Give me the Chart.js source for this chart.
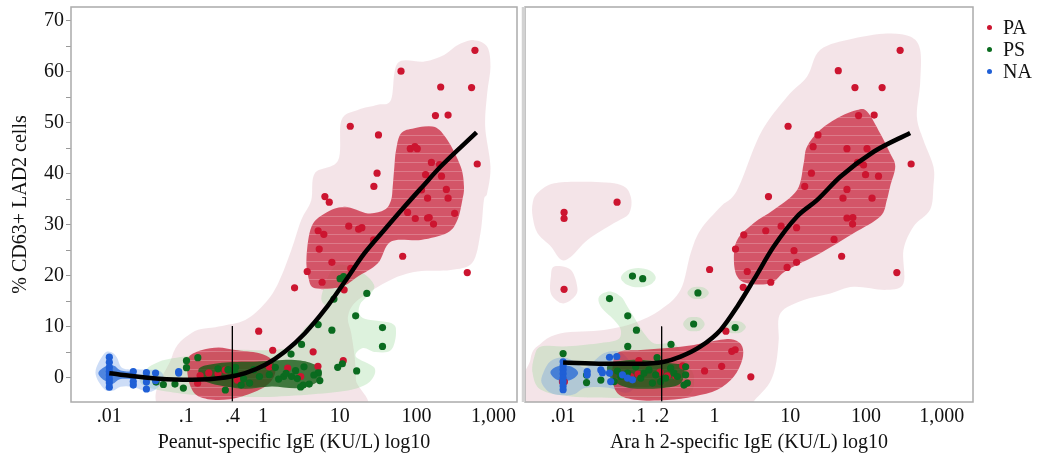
<!DOCTYPE html>
<html><head><meta charset="utf-8">
<script src="https://cdn.jsdelivr.net/npm/chart.js@4.4.1/dist/chart.umd.min.js"></script>
<style>
html,body{margin:0;padding:0;background:#fff;}
#wrap{position:relative;width:1037px;height:460px;overflow:hidden;}
#c1{position:absolute;left:0;top:0;}
#c2{position:absolute;left:521px;top:0;}
#legend{position:absolute;left:987px;top:16px;font-family:"Liberation Serif","Times New Roman",serif;font-size:20px;color:#111;}
.item{display:flex;align-items:center;height:22px;}
.dot{width:5px;height:5px;border-radius:50%;margin-right:11px;}
</style></head>
<body>
<div id="wrap">
<canvas id="c1" width="521" height="460"></canvas>
<canvas id="c2" width="516" height="460"></canvas>
<div id="legend"></div>
</div>
<script>
// ---------- categories / ticks ----------
const groups = ['PA', 'PS', 'NA'];
const groupColors = ['#cc1530', '#0a6b1f', '#1f5fd6'];
const leftTickValues = [0.01, 0.1, 0.4, 1, 10, 100, 1000];
const leftTickLabels = ['.01', '.1', '.4', '1', '10', '100', '1,000'];
const rightTickValues = [0.01, 0.1, 0.2, 1, 10, 100, 1000];
const rightTickLabels = ['.01', '.1', '.2', '1', '10', '100', '1,000'];
const yTickValues = [0, 5, 10, 15, 20, 25, 30, 35, 40, 45, 50, 55, 60, 65, 70];
const yTickLabels = ['0', '', '10', '', '20', '', '30', '', '40', '', '50', '', '60', '', '70'];
const leftCutoff = [[0.4, 10.1], [0.4, -4.8]];
const rightCutoff = [[0.2, 10.0], [0.2, -4.8]];

// ---------- left panel: Peanut-specific IgE ----------
const leftPA = [[575,64.2],[62.7,60.1],[206,57.0],[520,56.9],[176,51.4],[257,51.5],[13.7,49.3],[31.9,47.6],[82.8,44.9],[95,45.3],[102,44.9],[156,42.2],[199,41.8],[616,41.9],[30.6,40.1],[131,39.8],[211,39.5],[27.8,37.5],[244,36.9],[116,36.8],[6.4,35.5],[139,35.2],[257,35.2],[7.3,34.4],[76.4,32.4],[96.2,31.2],[139,31.3],[146,31.4],[166,30.1],[313,32.2],[5.23,28.8],[6.2,28.1],[13.1,29.7],[17.6,29.1],[19.4,29.4],[27.5,27.0],[5.4,25.2],[7.9,22.6],[65.9,23.8],[457,20.6],[3.77,20.8],[13.9,21.4],[5.89,18.7],[11.4,17.2],[2.58,17.6],[0.88,9.1],[1.34,5.35],[4.5,5.05],[5.2,2.2],[11.1,3.3],[3.1,0.2],[2.1,1.85],[1.21,2.1],[0.141,-1.1],[0.152,0.4],[0.197,0.9],[0.26,0.77],[0.324,1.45],[0.463,-0.5]];
const leftPS = [[10.1,19.4],[11.2,19.8],[22.5,16.5],[8.4,15.4],[16.1,12.1],[36,9.8],[36,6.1],[5.23,10.4],[7.9,9.3],[3.18,6.5],[2.32,4.6],[10.8,2.7],[9.4,2.0],[16.6,1.3],[5.23,0.9],[3.42,2.1],[2.66,1.35],[2.36,0.2],[3.09,-1.86],[3.34,-1.47],[4.0,-1.28],[1.86,0.2],[1.45,2.0],[1.21,0.57],[0.9,0.2],[0.76,1.55],[0.67,-1.08],[0.52,-1.47],[0.56,-0.25],[0.43,0.87],[0.44,2.0],[0.35,1.55],[0.26,1.7],[0.324,-2.45],[0.142,3.9],[0.101,3.3],[0.101,1.94],[0.092,-2.06],[0.0715,-1.28],[0.0505,-1.37],[0.0406,-0.9],[2.0,0.8],[1.6,-0.3],[2.8,-0.2],[4.6,0.5],[5.5,-0.6]];
const leftNA = [[0.01,4.0],[0.01,3.0],[0.01,2.0],[0.01,1.2],[0.01,0.5],[0.01,-0.3],[0.01,-1.0],[0.01,-1.9],[0.0205,1.16],[0.0205,0.19],[0.0205,-0.79],[0.0205,-1.47],[0.0304,0.96],[0.0304,-0.01],[0.0304,-0.89],[0.0304,-2.25],[0.04,0.87],[0.04,-0.6],[0.08,1.16],[0.08,0.87]];
const leftFit = [[0.01,0.86],[0.0444,-0.25],[0.12,-0.45],[0.324,0],[0.589,0.86],[1.07,2.5],[1.94,5.1],[3.52,8.7],[6.38,13.3],[11.6,18.8],[21.0,24.4],[38.2,29],[69.3,33.5],[120,37.5],[206,41.4],[603,48.1]];

// ---------- right panel: Ara h 2-specific IgE ----------
const rightPA = [[282,64.2],[43,60.2],[71.4,56.9],[163,56.9],[79.6,51.4],[128,51.5],[9.35,49.3],[23.2,47.6],[20,45.3],[56,44.9],[103,44.9],[77.3,42.2],[92.7,41.7],[394,41.9],[19,40.1],[98.5,39.8],[146,39.5],[15.5,37.5],[56,36.9],[5.15,35.5],[49.6,35.2],[120,35.2],[0.0516,34.4],[0.0103,32.4],[0.0103,31.2],[0.0103,17.3],[56,31.3],[67,31.4],[66.4,30.1],[2.43,28.0],[4.74,28.8],[7.57,29.7],[12.1,29.4],[37.8,27.1],[1.89,25.2],[11.2,24.9],[12.1,22.6],[9.07,21.6],[47.6,23.8],[0.86,21.2],[2.7,20.8],[255,20.6],[5.52,18.7],[2.39,17.7],[1.41,9.1],[1.69,5.15],[1.87,5.45],[1.24,2.2],[0.738,1.3],[3.01,0.14],[0.379,2.3],[0.306,0.33],[0.1,3.3],[0.0098,-0.84],[0.0104,-0.84],[0.078,0.2],[0.0977,0.67],[0.19,1.06],[0.238,0.33]];
const rightPS = [[0.0824,19.9],[0.1125,19.4],[0.603,16.6],[0.041,15.5],[0.0714,12.1],[0.093,9.3],[0.529,10.5],[1.87,9.8],[0.0714,6.1],[0.266,6.5],[0.01,4.7],[0.174,3.9],[0.0204,0.48],[0.0204,-0.98],[0.0315,-0.5],[0.0522,1.26],[0.0578,0.2],[0.0708,0.87],[0.091,2.1],[0.106,-0.11],[0.117,0.87],[0.136,1.5],[0.151,-1.08],[0.167,0.53],[0.194,-0.79],[0.226,-0.11],[0.263,1.84],[0.291,0.87],[0.323,0.2],[0.415,2.1],[0.415,0.53],[0.437,-1.08],[0.394,-1.47],[0.0471,-0.79]];
const rightNA = [[0.01,3.1],[0.01,2.3],[0.01,1.55],[0.01,0.72],[0.01,-0.11],[0.01,-0.84],[0.01,-1.67],[0.01,-2.4],[0.0208,1.16],[0.0208,0.53],[0.0315,1.5],[0.033,0.96],[0.041,3.98],[0.0511,4.13],[0.041,0.87],[0.0425,-0.79],[0.0608,0.53],[0.0708,-0.11],[0.0824,-0.45]];
const rightFit = [[0.01,2.94],[0.0348,2.7],[0.096,2.7],[0.215,3.1],[0.356,4.1],[0.654,6.1],[1.2,9.35],[1.99,13.9],[3.3,19.2],[6.04,25.7],[12.3,31.6],[22.5,34.8],[45.7,39.4],[126,44.3],[382,48.0]];

// ---------- density contour outlines (data coordinates) ----------
const leftPAOuter = [[340,65.2],[558,66.2],[830,64.9],[916,61.0],[830,55.8],[782,49.2],[916,41.4],[830,36.2],[752,34.8],[680,28.4],[531,22.5],[278,21.1],[103,20.8],[46.5,19.2],[17.2,15.2],[12.8,12.0],[14.1,8.7],[15.6,4.1],[16.2,-0.45],[15.5,-7],[0.06,-7],[0.0654,4.1],[0.119,8.8],[0.265,10.0],[0.589,11.3],[1.07,14.6],[1.59,18.6],[2.34,25.0],[3.15,30.9],[4.25,34.8],[4.74,40.1],[9.5,42.6],[10.5,50.5],[17.2,52.5],[31.3,53.5],[46.5,54.5],[56.8,61.7],[126,62.0],[228,63.3]];
const leftPAInnerA = [[54,44.6],[62.6,47.9],[93.4,48.9],[169,49.2],[252,46.6],[375,41.4],[414,37.5],[394,34.8],[340,30.9],[252,28.4],[114,27.0],[46.5,26.7],[31.3,22.4],[17.2,19.8],[10.5,17.8],[4.74,17.5],[3.88,19.8],[3.69,23.7],[4.28,29.6],[6.38,32.2],[11.6,33.5],[23.2,32.2],[38.2,32.9],[46.5,34.8],[48.9,37.5],[51.4,41.4]];
const leftPAInnerB = [[0.109,4.1],[0.161,5.4],[0.265,5.9],[0.436,5.4],[0.875,4.8],[1.3,3.5],[1.44,0.86],[1.07,-1.76],[0.532,-3.7],[0.265,-4.4],[0.146,-3.7],[0.114,-1.76],[0.103,1.5]];
const leftPSOuter = [[0.027,0.86],[0.0444,3.1],[0.109,4.25],[0.357,5.4],[1.18,5.4],[2.48,6.2],[3.34,9.35],[6.38,13.3],[5.77,15.9],[8.6,21.8],[17.2,21.1],[28.3,17.8],[18.3,14.3],[20,11.7],[46.5,10.7],[54,8.8],[46.5,5.4],[29.5,5.0],[20,5.8],[16.2,4.1],[28.3,1.9],[24.6,-0.84],[14.1,-2.4],[5.23,-3.2],[1.18,-3.8],[0.197,-3.6],[0.0598,-2.8],[0.027,-1.4]];
const leftPSInner = [[0.161,2.16],[0.324,2.94],[0.875,3.14],[2.36,3.47],[4.28,2.82],[5.77,1.5],[5.23,-0.78],[2.88,-2.08],[1.3,-1.76],[0.589,-2.2],[0.324,-1.76],[0.179,-0.78],[0.146,0.86]];
const leftNAOuter = [[0.0066,1.0],[0.0085,4.6],[0.0105,5.0],[0.0125,4.0],[0.015,1.8],[0.025,1.6],[0.045,1.3],[0.05,-0.5],[0.035,-2.8],[0.02,-1.8],[0.014,-1.8],[0.011,-2.6],[0.0085,-2.2]];
const leftNAInner = [[0.0072,0.9],[0.009,2.2],[0.0115,2.3],[0.014,1.4],[0.02,1.0],[0.022,-0.2],[0.014,-0.3],[0.011,-1.2],[0.0085,-0.5]];

const rightPAOuterA = [[24.9,64.3],[68.4,66.5],[188,67.5],[382,66.9],[518,64.3],[518,57.8],[469,51.2],[572,46.6],[775,41.4],[775,37.5],[701,32.9],[422,29.6],[312,25.0],[312,18.5],[188,17.2],[68.4,17.8],[33.8,16.5],[15,15.2],[7.4,12.6],[7.03,7.4],[6.7,4.1],[6.04,0.86],[4.95,-1.76],[3.26,-4.8],[2.98,-7],[0.0037,-7],[0.0037,3.47],[0.0051,6.7],[0.0094,8.7],[0.0348,9.35],[0.0864,10.7],[0.194,13.3],[0.356,17.2],[0.483,24.4],[0.654,29.0],[1.2,33.5],[1.99,36.8],[4.04,47.9],[9.07,55.1],[16.6,59.0]];
const rightPAOuterB = [[0.00396,34.2],[0.0046,36.2],[0.00764,38.1],[0.021,38.4],[0.0578,37.8],[0.0782,35.5],[0.0743,32.2],[0.0471,30.3],[0.021,27.0],[0.0127,23.7],[0.0094,23.1],[0.0069,25.7],[0.0046,28.3],[0.00396,31.6]];
const rightPAOuterC = [[0.00764,21.8],[0.0127,21.1],[0.0155,17.2],[0.0127,15.2],[0.0094,14.6],[0.0069,16.5],[0.0069,19.8]];
const rightPAInnerA = [[75.9,52.5],[103,52.2],[154,47.9],[208,44.0],[243,41.4],[208,37.5],[188,34.8],[154,31.6],[68.4,28.3],[24.9,24.4],[9.07,21.1],[5.47,18.5],[2.7,18.5],[1.99,19.8],[1.8,23.1],[1.99,27.0],[3.3,30.3],[6.04,32.9],[12.3,36.8],[15,42.0],[16.6,45.3],[24.9,48.6],[45.7,51.2]];
const rightPAInnerB = [[0.0522,4.8],[0.106,5.4],[0.238,5.8],[0.534,6.4],[1.2,7.4],[1.8,7.4],[2.32,6.1],[2.32,3.47],[1.8,0.2],[1.09,-2.4],[0.534,-3.7],[0.238,-4.4],[0.096,-4.4],[0.0522,-3.06],[0.0449,0.86]];
const rightPSOuterA = [[0.0051,6.1],[0.0103,6.1],[0.0285,6.7],[0.0522,7.4],[0.0578,9.35],[0.0471,11.3],[0.0315,13.9],[0.0299,15.9],[0.041,16.9],[0.0578,15.9],[0.0708,13.9],[0.091,11.3],[0.117,8.7],[0.16,6.7],[0.263,6.7],[0.323,6.1],[0.437,2.8],[0.534,0.2],[0.483,-3.06],[0.263,-4.0],[0.0578,-4.0],[0.0127,-3.7],[0.0051,-2.4],[0.00396,0.86],[0.00417,4.1]];
const rightPSOuterB = [[0.058,19.6],[0.07,21.0],[0.098,21.5],[0.14,21.0],[0.167,19.6],[0.14,18.2],[0.098,17.7],[0.07,18.2]];
const rightPSOuterC = [[0.437,16.6],[0.5,17.6],[0.607,17.8],[0.73,17.6],[0.84,16.6],[0.73,15.6],[0.607,15.4],[0.5,15.6]];
const rightPSOuterD = [[0.385,10.5],[0.44,11.7],[0.533,11.9],[0.65,11.7],[0.74,10.5],[0.65,9.3],[0.533,9.1],[0.44,9.3]];
const rightPSOuterE = [[1.35,9.9],[1.55,10.9],[1.87,11.1],[2.26,10.9],[2.59,9.9],[2.26,8.9],[1.87,8.7],[1.55,8.9]];
const rightPSInner = [[0.0426,2.8],[0.096,3.47],[0.263,2.8],[0.394,2.16],[0.356,-1.1],[0.194,-2.08],[0.0782,-2.08],[0.0471,-0.78],[0.0386,1.18]];
const rightNAOuter = [[0.0055,1.0],[0.0068,3.2],[0.01,4.0],[0.014,3.2],[0.02,2.0],[0.035,4.8],[0.06,4.8],[0.09,1.2],[0.095,-1.0],[0.07,-3.0],[0.04,-2.0],[0.02,-2.0],[0.014,-3.3],[0.01,-3.5],[0.0068,-3.0],[0.0052,-1.0]];
const rightNAInner = [[0.0068,1.0],[0.0085,2.2],[0.0125,2.2],[0.0158,0.9],[0.0125,-0.5],[0.0085,-0.5]];

// ---------- styling ----------
const FONT = "'Liberation Serif','Times New Roman',serif";
const Y_MIN = -4.8, Y_MAX = 72.7;
const FILL = {
  paOuter: 'rgba(222,170,185,0.32)',
  psOuter: 'rgba(150,215,150,0.32)',
  naOuter: 'rgba(100,150,230,0.32)',
  paInner: 'rgba(200,30,55,0.72)',
  psInner: 'rgba(20,90,20,0.78)',
  naInner: 'rgba(30,100,215,0.72)'
};

function makeHatch() {
  const c = document.createElement('canvas');
  c.width = 12; c.height = 9;
  const g = c.getContext('2d');
  g.fillStyle = 'rgba(255,255,255,0.22)';
  g.fillRect(0, 0, 12, 1);
  return c;
}
const hatchCanvas = makeHatch();

function closedSpline(ctx, pts) {
  const n = pts.length;
  ctx.beginPath();
  ctx.moveTo(pts[0][0], pts[0][1]);
  for (let i = 0; i < n; i++) {
    const p0 = pts[(i - 1 + n) % n], p1 = pts[i], p2 = pts[(i + 1) % n], p3 = pts[(i + 2) % n];
    const c1x = p1[0] + (p2[0] - p0[0]) / 6, c1y = p1[1] + (p2[1] - p0[1]) / 6;
    const c2x = p2[0] - (p3[0] - p1[0]) / 6, c2y = p2[1] - (p3[1] - p1[1]) / 6;
    ctx.bezierCurveTo(c1x, c1y, c2x, c2y, p2[0], p2[1]);
  }
  ctx.closePath();
}

const contourPlugin = {
  id: 'contours',
  beforeDatasetsDraw(chart, args, opts) {
    const {ctx, chartArea: a, scales: {x, y}} = chart;
    const pattern = ctx.createPattern(hatchCanvas, 'repeat');
    ctx.save();
    ctx.beginPath();
    ctx.rect(a.left, a.top, a.right - a.left, a.bottom - a.top);
    ctx.clip();
    for (const layer of opts.layers) {
      const pts = layer.shape.map(p => [x.getPixelForValue(p[0]), y.getPixelForValue(p[1])]);
      closedSpline(ctx, pts);
      ctx.fillStyle = layer.color;
      ctx.fill();
      if (layer.hatch) { ctx.fillStyle = pattern; ctx.fill(); }
    }
    ctx.restore();
  }
};

const framePlugin = {
  id: 'frame',
  afterDraw(chart, args, opts) {
    const {ctx, chartArea: a} = chart;
    ctx.save();
    ctx.strokeStyle = '#ababab';
    ctx.lineWidth = 1.5;
    ctx.strokeRect(a.left, a.top, a.right - a.left, a.bottom - a.top);
    if (opts.divider) {
      ctx.strokeStyle = '#d2d2d2';
      ctx.lineWidth = 3.5;
      ctx.beginPath();
      ctx.moveTo(a.left - 1.5, a.top);
      ctx.lineTo(a.left - 1.5, a.bottom);
      ctx.stroke();
    }
    ctx.restore();
  }
};

function pts(arr) { return arr.map(p => ({x: p[0], y: p[1]})); }
function noPad(s) { s.paddingTop = 0; s.paddingBottom = 0; s.paddingLeft = 0; s.paddingRight = 0; }

function buildChart(canvasId, cfg) {
  const datasets = [
    {type: 'line', data: pts(cfg.fit), borderColor: '#000', borderWidth: 4.5, pointRadius: 0, tension: 0.4, cubicInterpolationMode: 'monotone', fill: false, order: 0},
    {type: 'line', data: pts(cfg.cutoff), borderColor: '#000', borderWidth: 1, pointRadius: 0, fill: false, order: 1},
    {type: 'scatter', label: 'NA', data: pts(cfg.na), backgroundColor: groupColors[2], pointRadius: 3.6, pointBorderWidth: 0, order: 2},
    {type: 'scatter', label: 'PS', data: pts(cfg.ps), backgroundColor: groupColors[1], pointRadius: 3.6, pointBorderWidth: 0, order: 3},
    {type: 'scatter', label: 'PA', data: pts(cfg.pa), backgroundColor: groupColors[0], pointRadius: 3.6, pointBorderWidth: 0, order: 4}
  ];
  return new Chart(document.getElementById(canvasId), {
    type: 'scatter',
    data: {datasets},
    plugins: [contourPlugin, framePlugin],
    options: {
      responsive: false,
      animation: false,
      events: [],
      layout: {padding: cfg.padding},
      plugins: {
        legend: {display: false},
        tooltip: {enabled: false},
        contours: {layers: cfg.layers},
        frame: {divider: cfg.divider}
      },
      scales: {
        x: {
          type: 'logarithmic',
          min: cfg.xMin, max: cfg.xMax,
          afterBuildTicks: s => { s.ticks = cfg.tickValues.map(v => ({value: v})); },
          afterFit: s => { s.height = 58; noPad(s); },
          ticks: {
            callback: (v, i) => cfg.tickLabels[i],
            font: {family: FONT, size: 20}, color: '#111',
            maxRotation: 0, autoSkip: false, padding: 3
          },
          grid: {display: false, drawTicks: false},
          border: {display: false},
          title: {display: true, text: cfg.xTitle, font: {family: FONT, size: 20}, color: '#111', padding: {top: 0, bottom: 5}}
        },
        y: {
          display: cfg.showY,
          min: Y_MIN, max: Y_MAX,
          afterBuildTicks: s => { s.ticks = yTickValues.map(v => ({value: v})); },
          afterFit: s => { if (cfg.showY) { s.width = 71; } else { s.width = 0; } noPad(s); },
          ticks: {
            callback: (v, i) => yTickLabels[i],
            font: {family: FONT, size: 20}, color: '#111', padding: 2, autoSkip: false
          },
          grid: {drawOnChartArea: false, tickLength: 5, color: '#999', tickColor: '#999'},
          border: {display: false},
          title: {display: true, text: '% CD63+ LAD2 cells', font: {family: FONT, size: 20}, color: '#111', padding: {top: 9, bottom: 0}}
        }
      }
    }
  });
}

buildChart('c1', {
  pa: leftPA, ps: leftPS, na: leftNA, fit: leftFit, cutoff: leftCutoff,
  xMin: 0.00317, xMax: 2029,
  tickValues: leftTickValues, tickLabels: leftTickLabels,
  xTitle: 'Peanut-specific IgE (KU/L) log10',
  showY: true, divider: false,
  padding: {left: 0, right: 1, top: 7, bottom: 0},
  layers: [
    {shape: leftPAOuter, color: FILL.paOuter},
    {shape: leftPSOuter, color: FILL.psOuter},
    {shape: leftNAOuter, color: FILL.naOuter},
    {shape: leftPAInnerA, color: FILL.paInner, hatch: true},
    {shape: leftPAInnerB, color: FILL.paInner, hatch: true},
    {shape: leftPSInner, color: FILL.psInner},
    {shape: leftNAInner, color: FILL.naInner}
  ]
});

buildChart('c2', {
  pa: rightPA, ps: rightPS, na: rightNA, fit: rightFit, cutoff: rightCutoff,
  xMin: 0.00314, xMax: 2584,
  tickValues: rightTickValues, tickLabels: rightTickLabels,
  xTitle: 'Ara h 2-specific IgE (KU/L) log10',
  showY: false, divider: true,
  padding: {left: 3, right: 64, top: 7, bottom: 0},
  layers: [
    {shape: rightPAOuterA, color: FILL.paOuter},
    {shape: rightPAOuterB, color: FILL.paOuter},
    {shape: rightPAOuterC, color: FILL.paOuter},
    {shape: rightPSOuterA, color: FILL.psOuter},
    {shape: rightPSOuterB, color: FILL.psOuter},
    {shape: rightPSOuterC, color: FILL.psOuter},
    {shape: rightPSOuterD, color: FILL.psOuter},
    {shape: rightPSOuterE, color: FILL.psOuter},
    {shape: rightNAOuter, color: FILL.naOuter},
    {shape: rightPAInnerA, color: FILL.paInner, hatch: true},
    {shape: rightPAInnerB, color: FILL.paInner, hatch: true},
    {shape: rightPSInner, color: FILL.psInner},
    {shape: rightNAInner, color: FILL.naInner}
  ]
});

// legend
const legendEl = document.getElementById('legend');
groups.forEach((g, i) => {
  const item = document.createElement('div');
  item.className = 'item';
  const dot = document.createElement('span');
  dot.className = 'dot';
  dot.style.background = groupColors[i];
  const txt = document.createElement('span');
  txt.textContent = g;
  item.appendChild(dot); item.appendChild(txt);
  legendEl.appendChild(item);
});
</script>
</body></html>
